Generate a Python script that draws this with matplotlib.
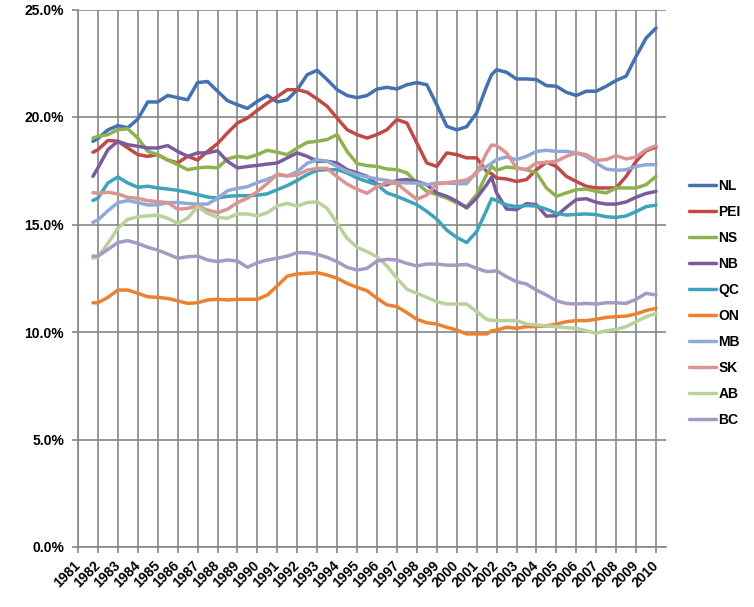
import numpy as np
import matplotlib
matplotlib.use("Agg")
import matplotlib.pyplot as plt
from matplotlib.ticker import FuncFormatter

# half-year points, with one extra point at 2001.75
years = [1981.75,
         1982.0, 1982.5, 1983.0, 1983.5, 1984.0, 1984.5, 1985.0, 1985.5,
         1986.0, 1986.5, 1987.0, 1987.5, 1988.0, 1988.5, 1989.0, 1989.5,
         1990.0, 1990.5, 1991.0, 1991.5, 1992.0, 1992.5, 1993.0, 1993.5,
         1994.0, 1994.5, 1995.0, 1995.5, 1996.0, 1996.5, 1997.0, 1997.5,
         1998.0, 1998.5, 1999.0, 1999.5, 2000.0, 2000.5,
         2001.0, 2001.5, 2001.75,
         2002.0, 2002.5, 2003.0, 2003.5, 2004.0, 2004.5, 2005.0, 2005.5,
         2006.0, 2006.5, 2007.0, 2007.5, 2008.0, 2008.5, 2009.0, 2009.5,
         2010.0]

NL = [18.87,
      19.0, 19.4, 19.6, 19.5, 19.9, 20.7, 20.7, 21.0,
      20.9, 20.8, 21.6, 21.65, 21.2, 20.76, 20.57, 20.4,
      20.73, 21.0, 20.7, 20.8, 21.27, 21.97, 22.17, 21.74,
      21.27, 21.0, 20.9, 21.0, 21.3, 21.38, 21.3, 21.5,
      21.6, 21.5, 20.57, 19.57, 19.4, 19.55,
      20.19, 21.43, 21.97,
      22.2, 22.08, 21.77, 21.77, 21.74, 21.46, 21.43, 21.15,
      21.0, 21.2, 21.2, 21.43, 21.7, 21.9, 22.82, 23.67,
      24.14]
PEI = [18.36,
       18.48, 18.91, 18.87, 18.56, 18.25, 18.17, 18.25, 18.0,
       17.86, 18.17, 18.0, 18.4, 18.76, 19.26, 19.72, 19.95,
       20.31, 20.65, 20.95, 21.27, 21.27, 21.15, 20.84, 20.5,
       19.95, 19.41, 19.18, 19.02, 19.18, 19.41, 19.88, 19.72,
       18.79, 17.86, 17.7, 18.33, 18.25, 18.1,
       18.1, 17.47, 17.36,
       17.16, 17.12, 17.0, 17.09, 17.55, 17.9, 17.7, 17.24,
       17.0, 16.78, 16.7, 16.7, 16.7, 17.24, 17.94, 18.43,
       18.6]
NS = [19.02,
      19.1, 19.18, 19.41, 19.45, 19.02, 18.4, 18.25, 18.0,
      17.78, 17.55, 17.63, 17.67, 17.63, 18.05, 18.17, 18.1,
      18.25, 18.45, 18.36, 18.25, 18.56, 18.82, 18.87, 18.95,
      19.18, 18.4, 17.83, 17.74, 17.7, 17.58, 17.55, 17.4,
      16.93, 16.54, 16.39, 16.23, 16.0, 15.84,
      16.39, 17.32, 17.7,
      17.52, 17.67, 17.63, 17.55, 17.4, 16.7, 16.31, 16.47,
      16.62, 16.65, 16.54, 16.47, 16.7, 16.7, 16.7, 16.85,
      17.24]
NB = [17.24,
      17.63, 18.48, 18.87, 18.71, 18.64, 18.56, 18.56, 18.67,
      18.4, 18.17, 18.33, 18.33, 18.43, 17.94, 17.63, 17.7,
      17.75, 17.81, 17.86, 18.1, 18.33, 18.17, 17.94, 17.94,
      17.86, 17.55, 17.4, 17.24, 16.85, 16.85, 17.05, 17.09,
      17.0, 16.85, 16.47, 16.31, 16.08, 15.77,
      16.23, 16.85, 17.2,
      16.47, 15.72, 15.69, 15.97, 15.92, 15.39, 15.41, 15.8,
      16.16, 16.2, 16.03, 15.95, 15.95, 16.05, 16.27, 16.44,
      16.54]
QC = [16.12,
      16.23, 16.93, 17.21, 16.93, 16.73, 16.78, 16.7, 16.65,
      16.59, 16.5, 16.39, 16.28, 16.23, 16.31, 16.34, 16.34,
      16.36, 16.43, 16.62, 16.81, 17.05, 17.32, 17.52, 17.55,
      17.55, 17.4, 17.16, 17.0, 16.85, 16.47, 16.31, 16.12,
      15.92, 15.61, 15.25, 14.74, 14.4, 14.16,
      14.67, 15.67, 16.2,
      16.11, 15.91, 15.83, 15.88, 15.86, 15.71, 15.52, 15.44,
      15.47, 15.49, 15.46, 15.36, 15.33, 15.4, 15.6, 15.83,
      15.9]
ON = [11.36,
      11.36, 11.61, 11.95, 11.95, 11.8, 11.64, 11.61, 11.56,
      11.45, 11.33, 11.36, 11.49, 11.52, 11.49, 11.52, 11.52,
      11.52, 11.72, 12.15, 12.6, 12.7, 12.73, 12.76, 12.65,
      12.5, 12.26, 12.08, 11.92, 11.57, 11.26, 11.18, 10.9,
      10.59, 10.43, 10.37, 10.22, 10.09, 9.91,
      9.91, 9.91, 10.05,
      10.09, 10.22, 10.17, 10.25, 10.25, 10.28, 10.37, 10.48,
      10.53, 10.53, 10.59, 10.68, 10.71, 10.74, 10.84, 11.0,
      11.1]
MB = [15.1,
      15.21, 15.64, 16.02, 16.11, 16.02, 15.91, 15.91, 16.02,
      16.02, 15.98, 15.95, 15.95, 16.22, 16.57, 16.68, 16.76,
      16.95, 17.1, 17.3, 17.26, 17.46, 17.85, 18.01, 17.94,
      17.7, 17.47, 17.32, 17.21, 17.12, 17.05, 16.96, 16.93,
      16.93, 16.85, 16.93, 16.93, 16.9, 16.9,
      17.47, 17.7, 17.85,
      18.02, 18.14, 18.02, 18.17, 18.4, 18.45, 18.4, 18.4,
      18.33, 18.17, 17.86, 17.58, 17.52, 17.55, 17.7, 17.78,
      17.78]
SK = [16.48,
      16.45, 16.5, 16.42, 16.26, 16.22, 16.11, 16.06, 16.02,
      15.71, 15.75, 15.86, 15.67, 15.55, 15.71, 16.02, 16.22,
      16.53, 16.91, 17.35, 17.26, 17.3, 17.53, 17.61, 17.61,
      17.22, 16.88, 16.64, 16.45, 16.76, 16.95, 16.91, 16.53,
      16.17, 16.37, 16.88, 16.95, 17.0, 17.07,
      17.36, 18.33, 18.7,
      18.67, 18.33, 17.63, 17.55, 17.86, 17.89, 17.94, 18.17,
      18.33, 18.25, 17.98, 18.02, 18.2, 18.05, 18.14, 18.48,
      18.67]
AB = [13.43,
      13.5, 14.12, 14.82, 15.24, 15.36, 15.4, 15.44, 15.29,
      15.05, 15.29, 15.83, 15.52, 15.33, 15.29, 15.49, 15.49,
      15.4, 15.55, 15.87, 15.98, 15.86, 16.02, 16.06, 15.75,
      15.05, 14.36, 13.94, 13.74, 13.5, 13.07, 12.5, 11.99,
      11.8, 11.61, 11.41, 11.3, 11.3, 11.3,
      10.95, 10.59, 10.55,
      10.53, 10.53, 10.53, 10.37, 10.33, 10.28, 10.25, 10.2,
      10.17, 10.06, 9.94, 10.06, 10.12, 10.25, 10.48, 10.71,
      10.87]
BC = [13.53,
      13.53, 13.84, 14.16, 14.25, 14.12, 13.94, 13.81, 13.63,
      13.43, 13.5, 13.53, 13.35, 13.27, 13.35, 13.3, 13.01,
      13.22, 13.35, 13.43, 13.53, 13.69, 13.69, 13.61, 13.47,
      13.27, 13.01, 12.88, 12.96, 13.3, 13.38, 13.35, 13.19,
      13.07, 13.16, 13.16, 13.11, 13.11, 13.14,
      12.96, 12.81, 12.82,
      12.85, 12.57, 12.34, 12.23, 11.95, 11.72, 11.45, 11.33,
      11.3, 11.33, 11.3, 11.36, 11.36, 11.33, 11.52, 11.8,
      11.72]

names = ["NL", "PEI", "NS", "NB", "QC", "ON", "MB", "SK", "AB", "BC"]
series = [NL, PEI, NS, NB, QC, ON, MB, SK, AB, BC]
colors = ["#4472B0", "#BE4B48", "#8FB24F", "#7A5C9C", "#3FA3BC",
          "#EA8232", "#8FAAD6", "#DA9593", "#B9D29A", "#A899C4"]
tick_years = list(range(1981, 2011))

fig = plt.figure(figsize=(7.54, 6.07), dpi=100)
ax = fig.add_axes([78 / 754, 1 - 547 / 607, 588 / 754, 537.5 / 607])

for name, vals, c in zip(names, series, colors):
    ax.plot(years, vals, color=c, lw=2.5, label=name,
            solid_joinstyle="round", solid_capstyle="round")

ax.set_xlim(1981, 2010.5)
ax.set_ylim(0, 25)
ax.set_xticks(tick_years)
ax.set_xticklabels([str(y) for y in tick_years], rotation=45, ha="right",
                   va="center", rotation_mode="anchor",
                   fontsize=10, fontweight="bold", family="Liberation Sans")
ax.set_yticks(np.arange(0, 25.1, 5))
ax.yaxis.set_major_formatter(FuncFormatter(lambda v, p: "%.1f%%" % v))
for lab in ax.get_yticklabels():
    lab.set_fontsize(10)
    lab.set_fontweight("bold")
    lab.set_family("Liberation Sans")

ax.grid(True, color="#868686", lw=1.2)
ax.set_axisbelow(True)
for s in ["top", "right"]:
    ax.spines[s].set_visible(False)
for s in ["left", "bottom"]:
    ax.spines[s].set_color("#868686")
    ax.spines[s].set_linewidth(1.2)
ax.tick_params(axis="both", colors="#868686", length=4, width=1.2, labelcolor="black")
ax.tick_params(axis="x", pad=8)
ax.tick_params(axis="y", pad=6)

fig.legend(loc="center left", bbox_to_anchor=(689 / 754, 1 - 303 / 607),
           frameon=False, borderpad=0, borderaxespad=0,
           handlelength=1.95, handletextpad=0.15, labelspacing=0.86,
           prop={"weight": "bold", "size": 10, "family": "Liberation Sans"})

fig.savefig("out.png", dpi=100)
